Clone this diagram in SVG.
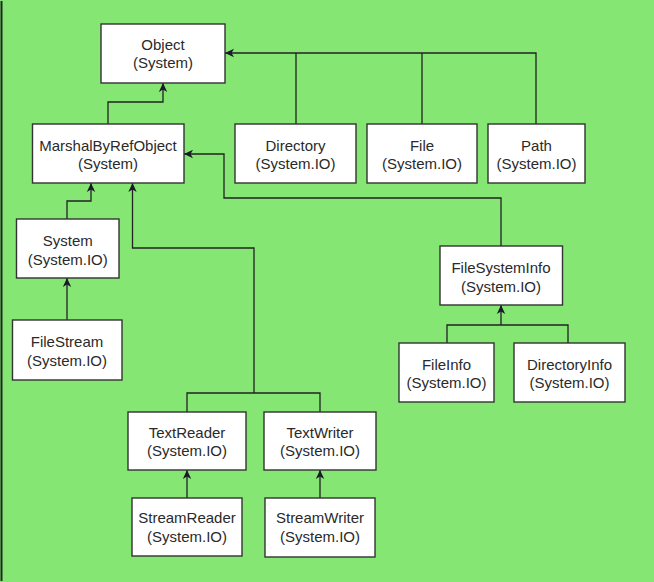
<svg xmlns="http://www.w3.org/2000/svg" width="654" height="582" viewBox="0 0 654 582">
<style>
.bg{fill:#85E674}
.box{fill:#ffffff;stroke:#333333;stroke-width:1.4}
.t{font-family:"Liberation Sans",Arial,sans-serif;font-size:15px;fill:#2a2a2a;text-anchor:middle}
.c{fill:none;stroke:#222222;stroke-width:1.3}
</style>
<defs>
<marker id="arr" markerWidth="10" markerHeight="10" refX="9" refY="5" orient="auto" markerUnits="userSpaceOnUse">
<path d="M0,0.8 L9,5 L0,9.2 L2.5,5 z" fill="#1a1a2a"/>
</marker>
</defs>
<rect class="bg" x="0" y="0" width="654" height="582"/>
<line x1="1.5" y1="1" x2="1.5" y2="581" stroke="#222" stroke-width="2"/>
<g id="connectors">
<path class="c" d="M536,124 V53 H225" marker-end="url(#arr)"/>
<path class="c" d="M296,124 V53"/>
<path class="c" d="M422,124 V53"/>
<path class="c" d="M108,124 V102 H163 V83" marker-end="url(#arr)"/>
<path class="c" d="M501,246 V198 H224 V154 H184" marker-end="url(#arr)"/>
<path class="c" d="M67,219 V201 H91 V183" marker-end="url(#arr)"/>
<path class="c" d="M187,412 V393 H320 V412"/>
<path class="c" d="M254,393 V248 H132.5 V183" marker-end="url(#arr)"/>
<path class="c" d="M67,320 V278" marker-end="url(#arr)"/>
<path class="c" d="M447,343 V325 H568 V343"/>
<path class="c" d="M501,325 V305" marker-end="url(#arr)"/>
<path class="c" d="M187,498 V470" marker-end="url(#arr)"/>
<path class="c" d="M320,498 V470" marker-end="url(#arr)"/>
</g>
<g id="object"><rect class="box" x="101" y="24" width="124" height="59"/><text class="t" x="163" y="50">Object</text><text class="t" x="163" y="68">(System)</text></g>
<g id="marshalbyrefobject"><rect class="box" x="32.5" y="124" width="151.5" height="59"/><text class="t" x="108" y="151">MarshalByRefObject</text><text class="t" x="108" y="169">(System)</text></g>
<g id="directory"><rect class="box" x="235" y="124" width="121" height="59"/><text class="t" x="295.5" y="151">Directory</text><text class="t" x="295.5" y="169">(System.IO)</text></g>
<g id="file"><rect class="box" x="367" y="124" width="110" height="59"/><text class="t" x="422" y="151">File</text><text class="t" x="422" y="169">(System.IO)</text></g>
<g id="path"><rect class="box" x="488" y="124" width="97" height="59"/><text class="t" x="536.5" y="151">Path</text><text class="t" x="536.5" y="169">(System.IO)</text></g>
<g id="system"><rect class="box" x="16.5" y="219" width="102.5" height="59"/><text class="t" x="67.75" y="246">System</text><text class="t" x="67.75" y="265">(System.IO)</text></g>
<g id="filestream"><rect class="box" x="12.5" y="320" width="109.5" height="60"/><text class="t" x="67" y="347">FileStream</text><text class="t" x="67" y="366">(System.IO)</text></g>
<g id="filesysteminfo"><rect class="box" x="440" y="246" width="122.5" height="59"/><text class="t" x="501" y="273">FileSystemInfo</text><text class="t" x="501" y="292">(System.IO)</text></g>
<g id="fileinfo"><rect class="box" x="399" y="343" width="95" height="59"/><text class="t" x="446.5" y="370">FileInfo</text><text class="t" x="446.5" y="388">(System.IO)</text></g>
<g id="directoryinfo"><rect class="box" x="514" y="343" width="111" height="59"/><text class="t" x="569.5" y="370">DirectoryInfo</text><text class="t" x="569.5" y="388">(System.IO)</text></g>
<g id="textreader"><rect class="box" x="128" y="412" width="118" height="58"/><text class="t" x="187" y="438">TextReader</text><text class="t" x="187" y="456">(System.IO)</text></g>
<g id="textwriter"><rect class="box" x="264" y="412" width="112" height="58"/><text class="t" x="320" y="438">TextWriter</text><text class="t" x="320" y="456">(System.IO)</text></g>
<g id="streamreader"><rect class="box" x="132" y="498" width="110" height="58"/><text class="t" x="187" y="523">StreamReader</text><text class="t" x="187" y="542">(System.IO)</text></g>
<g id="streamwriter"><rect class="box" x="265" y="498" width="110" height="59"/><text class="t" x="320" y="523">StreamWriter</text><text class="t" x="320" y="542">(System.IO)</text></g>
</svg>
